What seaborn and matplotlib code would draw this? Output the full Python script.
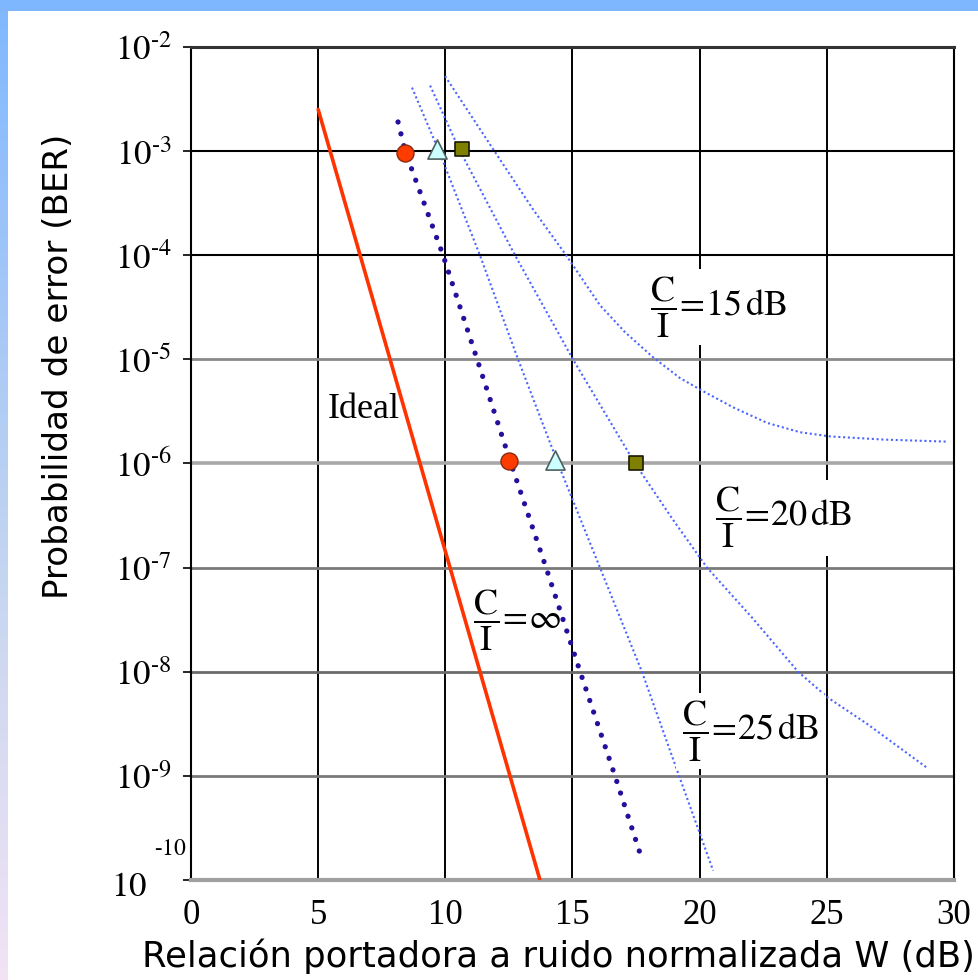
import numpy as np
import pandas as pd
import matplotlib
matplotlib.use("Agg")
import matplotlib.pyplot as plt
import seaborn as sns
from matplotlib.ticker import FixedLocator, FuncFormatter, NullLocator

# ---------------- data ----------------
ideal_w = [5.0, 13.72]
ideal_logber = [-2.6, -10.0]

inf_w = [8.14, 8.42, 9.91, 11.25, 12.58, 13.96, 15.30, 16.67, 17.73]
inf_logber = [-2.72, -3.0, -4.0, -5.0, -6.0, -7.0, -8.0, -9.0, -9.80]

ci25_w = [8.69, 9.75, 11.36, 12.86, 14.43, 16.08, 17.73, 19.19, 20.53]
ci25_logber = [-2.39, -3.0, -4.0, -5.0, -6.0, -7.0, -8.0, -9.0, -9.91]

ci20_w = [9.40, 10.58, 12.74, 15.02, 17.46, 18.95, 20.29, 22.06, 23.87, 25.05, 26.58, 28.98]
ci20_logber = [-2.37, -3.0, -4.0, -5.0, -6.0, -6.54, -7.0, -7.48, -8.0, -8.25, -8.5, -8.93]

ci15_w = [9.99, 11.93, 13.45, 14.75, 16.08, 17.07, 18.17, 19.23, 20.02, 21.31, 22.65,
          23.95, 25.13, 27.21, 29.73]
ci15_logber = [-2.28, -3.0, -3.56, -4.0, -4.48, -4.74, -4.98, -5.18, -5.29, -5.46,
               -5.61, -5.70, -5.74, -5.77, -5.79]

circle_w = [8.42, 12.5]
circle_logber = [-3.02, -5.98]
triangle_w = [9.66, 14.31]
triangle_logber = [-2.98, -5.97]
square_w = [10.64, 17.49]
square_logber = [-2.98, -6.0]

x_ticks = [0, 5, 10, 15, 20, 25, 30]
y_exponents = [-2, -3, -4, -5, -6, -7, -8, -9, -10]

xlabel = "Relación portadora a ruido normalizada W (dB)"
ylabel = "Probabilidad de error (BER)"

# ---------------- figure ----------------
sns.set_theme(style="white")
plt.rcParams["mathtext.fontset"] = "stix"
plt.rcParams["font.family"] = ["DejaVu Sans"]

W, H = 979, 980
fig = plt.figure(figsize=(W / 100, H / 100), dpi=100)
fig.patch.set_facecolor("white")

# decorative frame (blue top band, gradient left strip)
bg_arr = np.ones((H, W, 3))
top_c = np.array([0.50, 0.72, 1.0])
mid_c = np.array([0.78, 0.84, 0.94])
bot_c = np.array([0.95, 0.89, 0.96])
rows = np.linspace(0, 1, H)
for i, t in enumerate(rows):
    c = top_c + (mid_c - top_c) * (t / 0.6) if t < 0.6 else mid_c + (bot_c - mid_c) * ((t - 0.6) / 0.4)
    bg_arr[i, :8] = c
bg_arr[:12, :] = top_c
bg = fig.add_axes([0, 0, 1, 1], zorder=-10)
bg.imshow(bg_arr, aspect="auto", interpolation="nearest")
bg.axis("off")

ax = fig.add_axes([191 / W, 1 - 880 / H, (954 - 191) / W, (880 - 47) / H])
ax.set_facecolor("white")

def ber(v):
    return [10.0 ** e for e in v]

df_ideal = pd.DataFrame({"W": ideal_w, "BER": ber(ideal_logber)})
df_inf = pd.DataFrame({"W": inf_w, "BER": ber(inf_logber)})
df_25 = pd.DataFrame({"W": ci25_w, "BER": ber(ci25_logber)})
df_20 = pd.DataFrame({"W": ci20_w, "BER": ber(ci20_logber)})
df_15 = pd.DataFrame({"W": ci15_w, "BER": ber(ci15_logber)})

ax.set_yscale("log")

sns.lineplot(data=df_ideal, x="W", y="BER", ax=ax, color="#ff3300", linewidth=2.6,
             sort=False, estimator=None, zorder=3)
sns.lineplot(data=df_inf, x="W", y="BER", ax=ax, color="#24109c", linewidth=3.8,
             linestyle=(0, (0.01, 2.3)), dash_capstyle="round", sort=False,
             estimator=None, zorder=3)
for d in (df_25, df_20, df_15):
    sns.lineplot(data=d, x="W", y="BER", ax=ax, color="#4a66ff", linewidth=1.5,
                 linestyle=(0, (1, 1.3)), sort=False, estimator=None, zorder=3)

sns.scatterplot(x=circle_w, y=ber(circle_logber), ax=ax, marker="o", s=150,
                color="#ff3c00", edgecolor="#8a2a10", linewidth=1.0, zorder=7)
sns.scatterplot(x=triangle_w, y=ber(triangle_logber), ax=ax, marker="^", s=190,
                color="#ccffff", edgecolor="#4f5f5f", linewidth=1.2, zorder=7)
sns.scatterplot(x=square_w, y=ber(square_logber), ax=ax, marker="s", s=95,
                color="#7f7f00", edgecolor="#1a1a00", linewidth=1.2, zorder=7)

ax.set_xlim(0, 30)
ax.set_ylim(1e-10, 1e-2)

# ticks
def ylab(v, p):
    e = int(round(np.log10(v)))
    if e == y_exponents[-1]:
        return ""
    return r"$10^{\text{-}%d}$" % abs(e)

ax.xaxis.set_major_locator(FixedLocator(x_ticks))
ax.xaxis.set_minor_locator(NullLocator())
ax.yaxis.set_major_locator(FixedLocator([10.0 ** e for e in y_exponents]))
ax.yaxis.set_minor_locator(NullLocator())
ax.yaxis.set_major_formatter(FuncFormatter(ylab))
ax.xaxis.set_major_formatter(FuncFormatter(lambda v, p: "%d" % v))
ax.tick_params(axis="y", which="major", left=True, length=6, width=1.2, color="black",
               pad=8, labelsize=25, labelcolor="black")
ax.tick_params(axis="x", which="major", bottom=False, length=0, pad=14,
               labelsize=25, labelcolor="black")
for lab in ax.get_xticklabels():
    lab.set_family("Liberation Serif")

# the split bottom label of the reference ("-10" above, "10" below)
low = 10.0 ** y_exponents[-1]
ax.annotate(r"$10$", xy=(0, low), xycoords=("axes fraction", "data"),
            xytext=(-32, -4), textcoords="offset points", ha="right", va="center",
            fontsize=25, color="black", annotation_clip=False)
ax.annotate(r"$\text{-}10$", xy=(0, low), xycoords=("axes fraction", "data"),
            xytext=(-3, 23), textcoords="offset points", ha="right", va="center",
            fontsize=17, color="black", annotation_clip=False)

# grid
ax.grid(True, which="major", axis="both", zorder=0)
ax.set_axisbelow(True)
for gl in ax.xaxis.get_gridlines():
    gl.set_color("black")
    gl.set_linewidth(1.4)
grid_colors = {-2: "black", -3: "black", -4: "black", -5: "#8a8a8a", -6: "#a8a8a8",
               -7: "#7a7a7a", -8: "#6a6a6a", -9: "#7a7a7a", -10: "#a0a0a0"}
grid_widths = {-5: 2.0, -6: 2.6, -7: 2.0, -8: 2.0, -9: 2.0}
for e, gl in zip(y_exponents, ax.yaxis.get_gridlines()):
    gl.set_color(grid_colors[e])
    gl.set_linewidth(grid_widths.get(e, 1.5))

for side in ("left", "right", "top"):
    ax.spines[side].set_color("black")
    ax.spines[side].set_linewidth(1.5)
ax.spines["top"].set_linewidth(2.2)
ax.spines["top"].set_color("#333333")
ax.spines["bottom"].set_color("#a0a0a0")
ax.spines["bottom"].set_linewidth(3)

# axis labels
ax.set_xlabel(xlabel, fontsize=25.5, color="black", family="DejaVu Sans")
ax.set_ylabel(ylabel, fontsize=24.6, color="black", family="DejaVu Sans")
ax.xaxis.set_label_coords(0.481, -0.070)
ax.yaxis.set_label_coords(-0.152, 0.616)

# annotations
box = dict(boxstyle="square,pad=0.15", facecolor="white", edgecolor="none")
ax.text(5.39, 10 ** -5.48, "Ideal", family="Liberation Serif", fontsize=26,
        ha="left", va="center", color="black", zorder=5)
ax.text(18.05, 10 ** -4.50, r"$\dfrac{\mathrm{C}}{\mathrm{I}}\!=\!15\,\mathrm{dB}$",
        fontsize=26, ha="left", va="center", color="black", bbox=box, zorder=5)
ax.text(20.6, 10 ** -6.52, r"$\dfrac{\mathrm{C}}{\mathrm{I}}\!=\!20\,\mathrm{dB}$",
        fontsize=26, ha="left", va="center", color="black", bbox=box, zorder=5)
ax.text(19.3, 10 ** -8.57, r"$\dfrac{\mathrm{C}}{\mathrm{I}}\!=\!25\,\mathrm{dB}$",
        fontsize=26, ha="left", va="center", color="black", bbox=box, zorder=5)
ax.text(11.09, 10 ** -7.51, r"$\dfrac{\mathrm{C}}{\mathrm{I}}\!=\!\infty$",
        fontsize=26, ha="left", va="center", color="black", zorder=5)

fig.savefig("out.png", dpi=100, facecolor=fig.get_facecolor())
